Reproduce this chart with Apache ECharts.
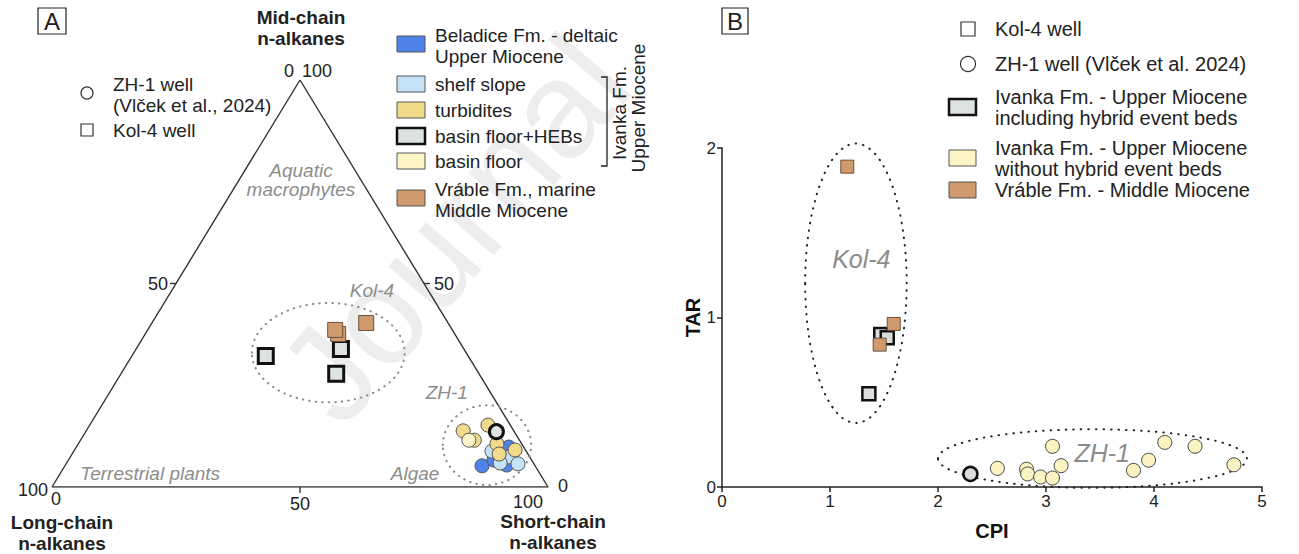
<!DOCTYPE html>
<html><head><meta charset="utf-8">
<script src="https://cdn.jsdelivr.net/npm/echarts@6/dist/echarts.min.js"></script>
<style>html,body{margin:0;padding:0;background:#fff}#c{width:1299px;height:554px}</style>
</head><body><div id="c"></div>
<script>
// ---------- Panel A data: ternary [short-chain %, mid-chain %, long-chain %] ----------
const ternBeladice   = [[84.1,5.2,10.7],[89.0,5.4,5.6],[87.2,9.8,3.0],[85.8,6.6,7.6]];
const ternShelfSlope = [[84.3,8.8,6.9],[87.4,6.6,6.0],[88.4,7.4,4.2],[91.1,5.7,3.2],[87.4,5.9,6.7]];
const ternTurbidites = [[76.0,13.8,10.2],[80.3,15.2,4.5],[84.4,10.6,5.0],[88.8,9.1,2.1],[86.1,8.1,5.8],[79.4,11.5,9.1]];
const ternBasinFloor = [[78.3,11.5,10.2]];
const ternHebZH1     = [[82.8,13.6,3.6]];
const ternVrable     = [[37.8,38.6,23.6],[38.9,37.6,23.5],[43.2,40.3,16.5]];
const ternHebKol4    = [[27.0,32.2,40.8],[41.3,33.9,24.8],[43.4,27.8,28.8]];
const ternTickValues = [0, 50, 100];

// ---------- Panel B data: [CPI, TAR] ----------
const cpiTarKol4Heb    = [[1.47,0.90],[1.53,0.88],[1.36,0.55]];
const cpiTarKol4Vrable = [[1.16,1.89],[1.59,0.962],[1.46,0.84]];
const cpiTarZH1Heb     = [[2.30,0.077]];
const cpiTarZH1Ivanka  = [[2.55,0.11],[2.82,0.105],[2.83,0.077],[2.95,0.059],[3.06,0.24],[3.06,0.053],[3.14,0.126],[3.81,0.098],[3.95,0.158],[4.10,0.263],[4.38,0.24],[4.74,0.131]];
const cpiTicks = [0,1,2,3,4,5];
const tarTicks = [0,1,2];

// ---------- text ----------
const legendA = ['Beladice Fm. - deltaic\nUpper Miocene','shelf slope','turbidites','basin floor+HEBs','basin floor','Vráble Fm., marine\nMiddle Miocene'];
const legendB = ['Kol-4 well','ZH-1 well (Vlček et al. 2024)','Ivanka Fm. - Upper Miocene\nincluding hybrid event beds','Ivanka Fm. - Upper Miocene\nwithout hybrid event beds','Vráble Fm. - Middle Miocene'];
const watermark = 'Journal';

const FONT = '"Liberation Sans", Arial, Helvetica, sans-serif';
const C = {
  beladice:'#5083ea', shelf:'#c4e2f6', turb:'#f2da8b', heb:'#dde3df', floor:'#fdf5c6', vrable:'#d09b6c',
  edge:'#555', dark:'#111', gray:'#8c8c8c'
};

const tern = p => [p[0] + p[1] / 2, p[1]];   // ternary -> triangle frame (x along base, y = height %)

function ternSeries(name, data, color, symbol, size, bc, bw) {
  return {type:'scatter', name, xAxisIndex:0, yAxisIndex:0, symbol, symbolSize:size, silent:true, z:5,
    data:data.map(tern), itemStyle:{color, borderColor:bc, borderWidth:bw, opacity:1}};
}
function bSeries(name, data, color, symbol, size, bc, bw) {
  return {type:'scatter', name, xAxisIndex:1, yAxisIndex:1, symbol, symbolSize:size, silent:true, z:5,
    data, itemStyle:{color, borderColor:bc, borderWidth:bw, opacity:1}};
}

// triangle vertices (long, short, mid corners)
const triangle = [[0,0,100],[100,0,0],[0,100,0],[0,0,100]].map(tern);

// ternary tick labels (pixel offsets are layout only)
const sides = {
  short:{pt:t=>[t,0,100-t], tick:{50:[0,6]},  off:{0:[4,12],50:[0,17],100:[-20,15]}},
  long: {pt:t=>[0,100-t,t], tick:{50:[-6,0]}, off:{0:[-11,-9],50:[-18,0],100:[-19,3]}},
  mid:  {pt:t=>[100-t,t,0], tick:{50:[6,0]},  off:{0:[15,-1],50:[20,0],100:[17,-9]}}
};
const ternLabels = [];
Object.keys(sides).forEach(k => ternTickValues.forEach(t => {
  ternLabels.push({xy:tern(sides[k].pt(t)), text:String(t), off:sides[k].off[t], tick:sides[k].tick[t] || null});
}));

// annotations: dotted group envelopes [cx, cy, rx, ry] in axis units
const envelopesA = [[55.7,33.0,15.4,12.2],[87.7,10.3,8.9,9.8]];
const envelopesB = [[1.24,1.202,0.47,0.824],[3.43,0.168,1.43,0.173]];
const notesA = [
  {xy:[50.2,75.4], text:'Aquatic\nmacrophytes'}, {xy:[19.8,3.4], text:'Terrestrial plants'},
  {xy:[73.2,3.4], text:'Algae'}, {xy:[64.5,48.4], text:'Kol-4'}, {xy:[79.6,23.3], text:'ZH-1'}
];
const notesB = [{xy:[1.29,1.344], text:'Kol-4'}, {xy:[3.52,0.2], text:'ZH-1'}];

function envelopeSeries(xi, data, color, lw, dash) {
  return {type:'custom', xAxisIndex:xi, yAxisIndex:xi, silent:true, clip:false, z:3, data,
    renderItem(params, api) {
      const c = api.coord([api.value(0), api.value(1)]);
      const s = api.size([api.value(2), api.value(3)]);
      return {type:'ellipse', shape:{cx:c[0], cy:c[1], rx:s[0], ry:s[1]},
        style:{fill:'none', stroke:color, lineWidth:lw, lineDash:dash, lineCap:'round'}};
    }};
}
function noteSeries(xi, notes, size, lh) {
  return {type:'custom', xAxisIndex:xi, yAxisIndex:xi, silent:true, clip:false, z:4,
    data:notes.map(n=>n.xy),
    renderItem(params, api) {
      const c = api.coord([api.value(0), api.value(1)]);
      return {type:'text', x:c[0], y:c[1], style:{text:notes[params.dataIndex].text, fill:C.gray,
        fontSize:size, fontStyle:'italic', fontFamily:FONT, align:'center', verticalAlign:'middle', lineHeight:lh}};
    }};
}

const series = [
  {type:'line', xAxisIndex:0, yAxisIndex:0, data:triangle, symbol:'none', silent:true, z:2,
   lineStyle:{color:'#333', width:1.4}},
  {type:'custom', xAxisIndex:0, yAxisIndex:0, silent:true, clip:false, z:2, data:ternLabels.map(d=>d.xy),
   renderItem(params, api) {
     const d = ternLabels[params.dataIndex];
     const c = api.coord([api.value(0), api.value(1)]);
     const children = [{type:'text', x:c[0]+d.off[0], y:c[1]+d.off[1],
       style:{text:d.text, fill:'#222', fontSize:18, fontFamily:FONT, align:'center', verticalAlign:'middle'}}];
     if (d.tick) children.push({type:'line', shape:{x1:c[0], y1:c[1], x2:c[0]+d.tick[0], y2:c[1]+d.tick[1]},
       style:{stroke:'#333', lineWidth:1.4}});
     return {type:'group', children};
   }},
  envelopeSeries(0, envelopesA, '#8a8a8a', 2, [0.5, 6]),
  noteSeries(0, notesA, 19, 19),
  ternSeries('Kol-4 basin floor+HEBs', ternHebKol4, C.heb, 'rect', 15, C.dark, 3),
  ternSeries('Kol-4 Vráble', ternVrable.slice().reverse(), C.vrable, 'rect', 15, '#6b5040', 1),
  ternSeries('Beladice', ternBeladice, C.beladice, 'circle', 14, C.edge, 1),
  ternSeries('shelf slope', ternShelfSlope, C.shelf, 'circle', 14, C.edge, 1),
  ternSeries('turbidites', ternTurbidites, C.turb, 'circle', 14, C.edge, 1),
  ternSeries('basin floor', ternBasinFloor, C.floor, 'circle', 14, C.edge, 1),
  ternSeries('ZH-1 basin floor+HEBs', ternHebZH1, C.heb, 'circle', 14, C.dark, 3),

  envelopeSeries(1, envelopesB, '#222', 2, [0.5, 7]),
  noteSeries(1, notesB, 25, 28),
  bSeries('Kol-4 HEB', cpiTarKol4Heb, '#dcdedc', 'rect', 13, C.dark, 2.5),
  bSeries('Kol-4 Vráble', cpiTarKol4Vrable, C.vrable, 'rect', 13, '#6b5040', 1),
  bSeries('ZH-1 HEB', cpiTarZH1Heb, '#dcdedc', 'circle', 14, C.dark, 2.5),
  bSeries('ZH-1 Ivanka', cpiTarZH1Ivanka, '#fbf3c2', 'circle', 14, '#444', 1)
];

// ---------- graphic (legends, titles, panel letters) ----------
const G = [];
// faint diagonal watermark of the source page
G.push({type:'text', x:306, y:400, rotation:0.86, silent:true, z:-10,
  style:{text:watermark, fill:'rgba(0,0,0,0.07)', fontSize:138, fontFamily:FONT, align:'left', verticalAlign:'middle'}});
function txt(x, y, text, o, rot) {
  const el = {type:'text', x, y, silent:true, z:20, style:Object.assign({text, fill:'#222', fontSize:20, fontFamily:FONT,
    align:'left', verticalAlign:'middle', lineHeight:21}, o||{})};
  if (rot) el.rotation = rot;
  G.push(el);
}
function rect(x, y, w, h, fill, stroke, lw) {
  G.push({type:'rect', silent:true, z:20, shape:{x, y, width:w, height:h}, style:{fill, stroke, lineWidth:lw}});
}
// panel letters
rect(38, 8, 28, 26, '#fff', '#222', 1.2); txt(52, 21, 'A', {align:'center', fontSize:24});
rect(722, 8, 26, 26, '#fff', '#222', 1.2); txt(735, 21, 'B', {align:'center', fontSize:24});
// apex titles
const boldT = {align:'center', fontWeight:'bold', fontSize:19, lineHeight:21};
txt(301, 28, 'Mid-chain\nn-alkanes', boldT);
txt(62, 533, 'Long-chain\nn-alkanes', boldT);
txt(553, 532, 'Short-chain\nn-alkanes', boldT);
// A: well symbols
G.push({type:'circle', silent:true, z:20, shape:{cx:87, cy:93, r:6}, style:{fill:'#fff', stroke:'#333', lineWidth:1.2}});
txt(113, 95, 'ZH-1 well\n(Vlček et al., 2024)', {fontSize:19});
rect(81, 124, 12, 12, '#fff', '#333', 1.2);
txt(113, 130, 'Kol-4 well', {fontSize:19});
// A: colour legend
const legAFill = [C.beladice, C.shelf, C.turb, C.heb, C.floor, C.vrable];
const legAY = [44, 84, 110, 136, 161, 198];
legendA.forEach((name, i) => {
  const heb = i === 3;
  rect(397, legAY[i]-8, 28, 16, legAFill[i], heb ? '#111' : '#555', heb ? 2.5 : 1);
  txt(435, legAY[i] + (name.indexOf('\n')>0 ? 2 : 0), name, {fontSize:19});
});
G.push({type:'polyline', silent:true, z:20, shape:{points:[[601,77],[607,77],[607,166],[601,166]]}, style:{fill:'none', stroke:'#222', lineWidth:1.3}});
txt(619, 113, 'Ivanka Fm.', {align:'center', fontSize:19}, Math.PI/2);
txt(638, 108, 'Upper Miocene', {align:'center', fontSize:19}, Math.PI/2);
// B legend
G.push({type:'rect', silent:true, z:20, shape:{x:961, y:22, width:14, height:14}, style:{fill:'#fff', stroke:'#333', lineWidth:1.2}});
txt(995, 29, legendB[0]);
G.push({type:'circle', silent:true, z:20, shape:{cx:968, cy:64, r:7.5}, style:{fill:'#fff', stroke:'#333', lineWidth:1.2}});
txt(995, 64, legendB[1]);
rect(949, 99, 27, 16, C.heb, '#111', 2.5); txt(995, 107.5, legendB[2]);
rect(949, 150, 27, 16, C.floor, '#555', 1); txt(995, 158.5, legendB[3]);
rect(949, 182, 27, 16, C.vrable, '#555', 1); txt(995, 190, legendB[4]);

const axisCommon = {
  axisLine:{show:true, onZero:false, lineStyle:{color:'#222', width:1.5}},
  axisTick:{show:true, length:5, lineStyle:{color:'#222', width:1.5}},
  axisLabel:{fontSize:17, color:'#222', fontFamily:FONT, margin:6},
  splitLine:{show:false},
  nameLocation:'middle',
  nameTextStyle:{fontSize:20, fontWeight:'bold', color:'#111', fontFamily:FONT}
};

const option = {
  animation:false,
  backgroundColor:'#fff',
  textStyle:{fontFamily:FONT},
  grid:[
    {left:52, top:80, width:496, height:407},
    {left:722, top:148, width:540, height:339}
  ],
  xAxis:[
    {gridIndex:0, type:'value', min:0, max:100, show:false},
    Object.assign({gridIndex:1, type:'value', min:cpiTicks[0], max:cpiTicks[cpiTicks.length-1], interval:1, name:'CPI', nameGap:34}, axisCommon)
  ],
  yAxis:[
    {gridIndex:0, type:'value', min:0, max:100, show:false},
    Object.assign({gridIndex:1, type:'value', min:tarTicks[0], max:tarTicks[tarTicks.length-1], interval:1, name:'TAR', nameGap:14}, axisCommon)
  ],
  series,
  graphic:G
};

const chart = echarts.init(document.getElementById('c'), null, {renderer:'svg', width:1299, height:554});
chart.setOption(option);
</script>
</body></html>
